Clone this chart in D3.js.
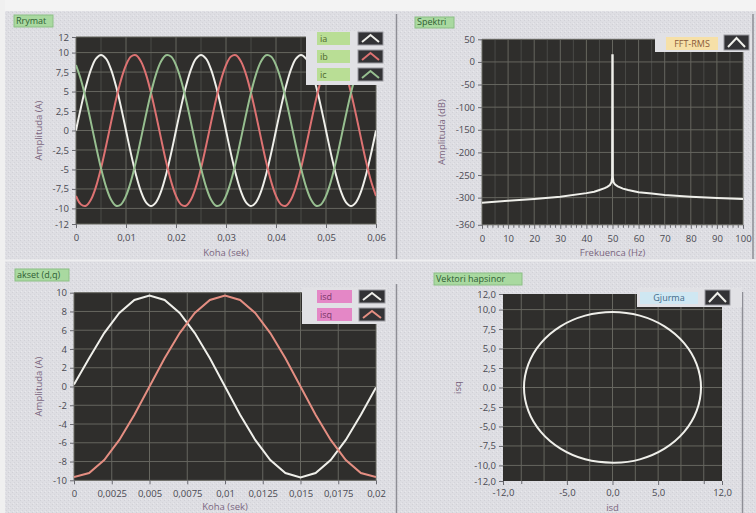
<!DOCTYPE html>
<html><head><meta charset="utf-8">
<script src="https://cdn.jsdelivr.net/npm/d3@7"></script>
<style>
html,body{margin:0;padding:0;background:#f2f2f2;}
svg{display:block;font-family:"Open Sans","DejaVu Sans",sans-serif;}
</style></head><body>
<svg id="c" width="756" height="513"></svg>
<script>
// ---------------- DATA ----------------
// Panel 1: phase currents (sampled every 1 ms, 0 .. 0.06 s)
const dtPhase = 0.001;
const ia = [0,3.00,5.70,7.85,9.22,9.70,9.22,7.85,5.70,3.00,0,-3.00,-5.70,-7.85,-9.22,-9.70,-9.22,-7.85,-5.70,-3.00,
            0,3.00,5.70,7.85,9.22,9.70,9.22,7.85,5.70,3.00,0,-3.00,-5.70,-7.85,-9.22,-9.70,-9.22,-7.85,-5.70,-3.00,
            0,3.00,5.70,7.85,9.22,9.70,9.22,7.85,5.70,3.00,0,-3.00,-5.70,-7.85,-9.22,-9.70,-9.22,-7.85,-5.70,-3.00,0];
const ib = [-8.40,-9.49,-9.65,-8.86,-7.21,-4.85,-2.02,1.01,3.95,6.49,8.40,9.49,9.65,8.86,7.21,4.85,2.02,-1.01,-3.95,-6.49,
            -8.40,-9.49,-9.65,-8.86,-7.21,-4.85,-2.02,1.01,3.95,6.49,8.40,9.49,9.65,8.86,7.21,4.85,2.02,-1.01,-3.95,-6.49,
            -8.40,-9.49,-9.65,-8.86,-7.21,-4.85,-2.02,1.01,3.95,6.49,8.40,9.49,9.65,8.86,7.21,4.85,2.02,-1.01,-3.95,-6.49,-8.40];
const ic = [8.40,6.49,3.95,1.01,-2.02,-4.85,-7.21,-8.86,-9.65,-9.49,-8.40,-6.49,-3.95,-1.01,2.02,4.85,7.21,8.86,9.65,9.49,
            8.40,6.49,3.95,1.01,-2.02,-4.85,-7.21,-8.86,-9.65,-9.49,-8.40,-6.49,-3.95,-1.01,2.02,4.85,7.21,8.86,9.65,9.49,
            8.40,6.49,3.95,1.01,-2.02,-4.85,-7.21,-8.86,-9.65,-9.49,-8.40,-6.49,-3.95,-1.01,2.02,4.85,7.21,8.86,9.65,9.49,8.40];

// Panel 2: spectrum
const specFreq = [0,10,20,30,40,43,45,47,48,49,49.6,49.85,49.92,50.08,50.15,50.4,51,52,54,56,60,65,70,80,90,100];
const specDb   = [-311,-307,-303,-298,-290,-287,-283,-279,-276,-272,-266,-255,15,15,-255,-266,-271,-275,-280,-283,-288,-291,-294,-298,-301,-303];

// Panel 3: d,q currents (sampled every 1 ms, 0 .. 0.02 s)
const dtDq = 0.001;
const isd = [0.2,3.00,5.70,7.85,9.22,9.70,9.22,7.85,5.70,3.00,0,-3.00,-5.70,-7.85,-9.22,-9.70,-9.22,-7.85,-5.70,-3.00,-0.1];
const isq = [-9.65,-9.22,-7.85,-5.70,-3.00,0,3.00,5.70,7.85,9.22,9.70,9.22,7.85,5.70,3.00,0,-3.00,-5.70,-7.85,-9.22,-9.65];

// Tick labels
const p1Y = [12,10,7.5,5,2.5,0,-2.5,-5,-7.5,-10,-12];
const p1X = [0,0.01,0.02,0.03,0.04,0.05,0.06];
const p2Y = [50,0,-50,-100,-150,-200,-250,-300,-360];
const p2X = [0,10,20,30,40,50,60,70,80,90,100];
const p3Y = [10,8,6,4,2,0,-2,-4,-6,-8,-10];
const p3X = [0,0.0025,0.005,0.0075,0.01,0.0125,0.015,0.0175,0.02];
const p4Y = [12,10,7.5,5,2.5,0,-2.5,-5,-7.5,-10,-12];
const p4X = [-12,-5,0,5,12];

// ---------------- DRAW ----------------
const svg = d3.select('#c');
const defs = svg.append('defs');
const pat = defs.append('pattern').attr('id','tex').attr('width',4).attr('height',4).attr('patternUnits','userSpaceOnUse');
pat.append('rect').attr('width',4).attr('height',4).attr('fill','#dedee3');
pat.append('rect').attr('x',0).attr('y',0).attr('width',1).attr('height',1).attr('fill','#d0d0d6');
pat.append('rect').attr('x',2).attr('y',2).attr('width',1).attr('height',1).attr('fill','#d4d4da');
pat.append('rect').attr('x',1).attr('y',3).attr('width',1).attr('height',1).attr('fill','#e8e8ec');

svg.append('rect').attr('width',756).attr('height',513).attr('fill','url(#tex)');
svg.append('rect').attr('width',756).attr('height',11).attr('fill','#f3f3f3');
svg.append('rect').attr('width',5).attr('height',513).attr('fill','#f0f0f0');

// panel separators
[[396.5,14,259],[396.5,284,513],[742.5,292,513],[753,14,259]].forEach(l=>{
  svg.append('line').attr('x1',l[0]).attr('x2',l[0]).attr('y1',l[1]).attr('y2',l[2])
    .attr('stroke','#8e8e95').attr('stroke-width',1.5);
});
svg.append('line').attr('x1',5).attr('x2',756).attr('y1',260.5).attr('y2',260.5).attr('stroke','#eeeef0').attr('stroke-width',2);

const fmtComma = d => String(d).replace('.', ',');
const fmt1 = d => d.toFixed(1).replace('.', ',');

function styleAxis(s){
  s.select('.domain').remove();
  s.selectAll('line').attr('stroke','#6a6a70');
  s.selectAll('text').attr('fill','#4a4a52').attr('font-family','"Open Sans","DejaVu Sans",sans-serif').attr('font-size','9.5px');
}

function plot(c){
  const x = d3.scaleLinear().domain(c.xd).range([c.l,c.r]);
  const y = d3.scaleLinear().domain(c.yd).range([c.b,c.t]);
  const g = svg.append('g');
  g.append('rect').attr('x',c.l).attr('y',c.t).attr('width',c.r-c.l).attr('height',c.b-c.t).attr('fill','#2f2e2c');
  if(c.xminorGrid) g.append('g').selectAll('line').data(c.xminorGrid).join('line')
    .attr('x1',d=>x(d)).attr('x2',d=>x(d)).attr('y1',c.t).attr('y2',c.b).attr('stroke','#4a4a47').attr('stroke-width',1);
  g.append('g').selectAll('line').data(c.xgrid).join('line')
    .attr('x1',d=>x(d)).attr('x2',d=>x(d)).attr('y1',c.t).attr('y2',c.b).attr('stroke','#66665f').attr('stroke-width',1);
  g.append('g').selectAll('line').data(c.ygrid).join('line')
    .attr('y1',d=>y(d)).attr('y2',d=>y(d)).attr('x1',c.l).attr('x2',c.r).attr('stroke','#66665f').attr('stroke-width',1);
  defs.append('clipPath').attr('id','clip'+c.id).append('rect')
    .attr('x',c.l).attr('y',c.t).attr('width',c.r-c.l).attr('height',c.b-c.t);
  const data = g.append('g').attr('clip-path',`url(#clip${c.id})`);
  // axes
  g.append('g').attr('transform',`translate(0,${c.b})`)
    .call(d3.axisBottom(x).tickValues(c.xticks).tickFormat(c.xfmt).tickSize(4).tickPadding(c.xpad||6)).call(styleAxis);
  if(c.xminor) g.append('g').attr('transform',`translate(0,${c.b})`)
    .call(d3.axisBottom(x).tickValues(c.xminor).tickFormat('').tickSize(3)).call(styleAxis);
  g.append('g').attr('transform',`translate(${c.l},0)`)
    .call(d3.axisLeft(y).tickValues(c.yticks).tickFormat(c.yfmt).tickSize(4).tickPadding(3)).call(styleAxis);
  // axis titles
  g.append('text').attr('x',(c.l+c.r)/2).attr('y',c.xlabY).attr('text-anchor','middle')
    .attr('fill','#7b6680').attr('font-size','9.5px').text(c.xlab);
  g.append('text').attr('transform',`translate(${c.ylabX},${(c.t+c.b)/2}) rotate(-90)`).attr('text-anchor','middle')
    .attr('dy','0.35em').attr('fill','#7b6680').attr('font-size','9.5px').text(c.ylab);
  return {x,y,data};
}

function title(x,y,w,h,txt){
  svg.append('rect').attr('x',x).attr('y',y).attr('width',w).attr('height',h)
    .attr('fill','#a9d9a0').attr('stroke','#8cbf86').attr('stroke-width',1);
  svg.append('text').attr('x',x+2).attr('y',y+h-3).attr('fill','#2f5d33').attr('font-size','9px').text(txt);
}

function legend(bg, lab, ico, rows, center){
  svg.append('rect').attr('x',bg[0]).attr('y',bg[1]).attr('width',bg[2]).attr('height',bg[3]).attr('fill','#e1e1e5');
  rows.forEach(r=>{
    svg.append('rect').attr('x',lab[0]).attr('y',r.y).attr('width',lab[1]-lab[0]).attr('height',r.h).attr('fill',r.box);
    svg.append('text').attr('x',center ? (lab[0]+lab[1])/2 : lab[0]+3).attr('y',r.y+r.h/2+3.3)
      .attr('text-anchor',center?'middle':'start').attr('fill',r.tc).attr('font-size','9px').text(r.name);
    svg.append('rect').attr('x',ico[0]).attr('y',r.iy).attr('width',ico[1]-ico[0]).attr('height',r.ih)
      .attr('fill','#333336').attr('stroke','#9a9aa0').attr('stroke-width',1);
    const cx=(ico[0]+ico[1])/2;
    svg.append('polyline').attr('points',`${ico[0]+4},${r.iy+r.ih-3} ${cx},${r.iy+3} ${ico[1]-4},${r.iy+r.ih-3}`)
      .attr('fill','none').attr('stroke',r.color).attr('stroke-width',2);
  });
}

const cWhite='#efefea', cRed='#dd7272', cGreen='#97bf90', cSalmon='#e48e82';

// ---- Panel 1
title(14,15,39,12,'Rrymat');
const P1 = plot({id:1,l:76,r:376,t:37,b:224,xd:[0,0.06],yd:[-12,12],
  xticks:p1X,yticks:p1Y,xfmt:fmtComma,yfmt:fmtComma,
  xgrid:p1X,ygrid:p1Y,xminorGrid:[0.005,0.015,0.025,0.035,0.045,0.055],
  xlab:'Koha (sek)',xlabY:255.5,ylab:'Amplituda (A)',ylabX:39});
const line1 = arr => d3.line().curve(d3.curveCatmullRom).x((d,i)=>P1.x(i*dtPhase)).y(d=>P1.y(d))(arr);
[[ia,cWhite],[ib,cRed],[ic,cGreen]].forEach(s=>{
  P1.data.append('path').attr('d',line1(s[0])).attr('fill','none').attr('stroke',s[1]).attr('stroke-width',2);
});
legend([306,31,78,54],[317,350],[358,383],[
  {name:'ia',y:32,h:13,iy:32,ih:13,box:'#b9de95',tc:'#4f6b2e',color:cWhite},
  {name:'ib',y:50,h:13,iy:50,ih:13,box:'#b9de95',tc:'#4f6b2e',color:cRed},
  {name:'ic',y:68,h:13,iy:68,ih:13,box:'#b9de95',tc:'#4f6b2e',color:cGreen}],false);

// ---- Panel 2
title(415,17,39,11,'Spektri');
const P2 = plot({id:2,l:482,r:743,t:39.3,b:224.8,xd:[0,100],yd:[-360,50],
  xticks:p2X,yticks:p2Y,xfmt:fmtComma,yfmt:fmtComma,
  xgrid:p2X,ygrid:p2Y,xminorGrid:[5,15,25,35,45,55,65,75,85,95],
  xminor:[2,4,6,8,12,14,16,18,22,24,26,28,32,34,36,38,42,44,46,48,52,54,56,58,62,64,66,68,72,74,76,78,82,84,86,88,92,94,96,98],
  xlab:'Frekuenca (Hz)',xlabY:255.5,ylab:'Amplituda (dB)',ylabX:442});
P2.data.append('path').attr('d',d3.line().x((d,i)=>P2.x(specFreq[i])).y(d=>P2.y(d))(specDb))
  .attr('fill','none').attr('stroke',cWhite).attr('stroke-width',2);
legend([655,33,97,19],[666,718],[724,749],[
  {name:'FFT-RMS',y:37,h:13,iy:35,ih:15,box:'#f6e0a8',tc:'#8a5a3a',color:cWhite}],true);

// ---- Panel 3
title(15,269,54,12,'akset (d,q)');
const P3 = plot({id:3,l:74,r:376,t:292.7,b:480.3,xd:[0,0.02],yd:[-10,10],
  xticks:p3X,yticks:p3Y,xfmt:fmtComma,yfmt:fmtComma,
  xgrid:p3X,ygrid:p3Y,
  xlab:'Koha (sek)',xlabY:510,ylab:'Amplituda (A)',ylabX:39});
const line3 = arr => d3.line().x((d,i)=>P3.x(i*dtDq)).y(d=>P3.y(d))(arr);
[[isd,cWhite],[isq,cSalmon]].forEach(s=>{
  P3.data.append('path').attr('d',line3(s[0])).attr('fill','none').attr('stroke',s[1]).attr('stroke-width',2);
});
legend([302,287,85,37],[317,352],[359,385],[
  {name:'isd',y:290,h:13,iy:290,ih:13,box:'#e487c6',tc:'#7a3668',color:cWhite},
  {name:'isq',y:308,h:13,iy:308,ih:13,box:'#e487c6',tc:'#7a3668',color:cSalmon}],false);

// ---- Panel 4 (trajectory of the d,q vector; last sample coincides with the first)
title(434,273,88,12,'Vektori hapsinor');
const P4 = plot({id:4,l:503,r:722,t:294,b:481,xd:[-12,12],yd:[-12,12],
  xticks:p4X,yticks:p4Y,xfmt:fmt1,yfmt:fmt1,xpad:4,
  xgrid:[-10,-7.5,-5,-2.5,0,2.5,5,7.5,10],ygrid:[10,7.5,5,2.5,0,-2.5,-5,-7.5,-10],
  xminor:[-10,10],
  xlab:'isd',xlabY:510.5,ylab:'isq',ylabX:458});
const loop = isq.slice(0, isq.length - 1);
P4.data.append('path').attr('d',d3.line().curve(d3.curveCatmullRomClosed).x((d,i)=>P4.x(isd[i])).y(d=>P4.y(d))(loop))
  .attr('fill','none').attr('stroke',cWhite).attr('stroke-width',2);
legend([637,288,105,19],[640,698],[705,730],[
  {name:'Gjurma',y:292,h:12,iy:290,ih:15,box:'#cfe7f2',tc:'#3e6a8a',color:cWhite}],true);
</script>
</body></html>
